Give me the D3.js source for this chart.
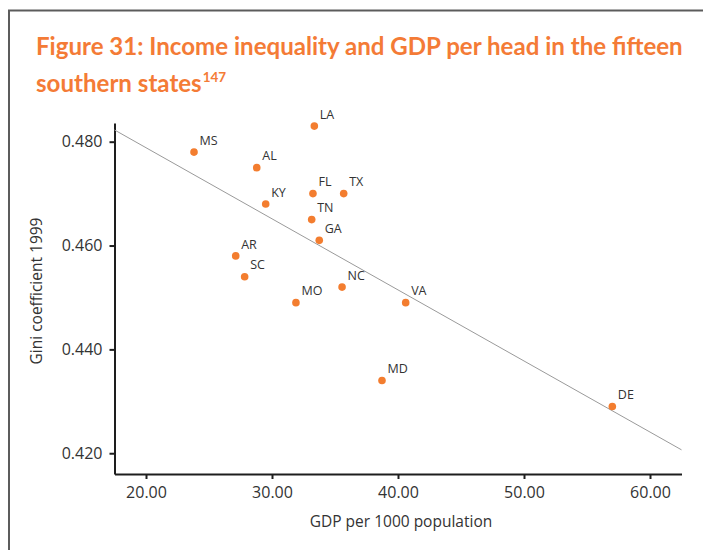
<!DOCTYPE html>
<html>
<head>
<meta charset="utf-8">
<script src="https://cdn.jsdelivr.net/npm/d3@7"></script>
<style>
  html, body { margin: 0; padding: 0; background: #fff; }
  svg { display: block; }
</style>
</head>
<body>
<svg id="chart" width="703" height="550"></svg>
<script>
// Fifteen southern states: GDP per 1000 population vs Gini coefficient (1999)
const states = ["MS", "AL", "LA", "KY", "FL", "TX", "TN", "GA", "AR", "SC", "NC", "MO", "VA", "MD", "DE"];
const gdpPer1000 = [23.81, 28.79, 33.36, 29.50, 33.25, 35.69, 33.15, 33.75, 27.12, 27.83, 35.56, 31.90, 40.61, 38.73, 57.01];
const gini1999 = [0.478, 0.475, 0.483, 0.468, 0.470, 0.470, 0.465, 0.461, 0.458, 0.454, 0.452, 0.449, 0.449, 0.434, 0.429];

const xTicks = [20, 30, 40, 50, 60];
const yTicks = [0.420, 0.440, 0.460, 0.480];

const titleLine1 = "Figure 31: Income inequality and GDP per head in the fifteen";
const titleLine2 = "southern states";
const titleNote = "147";
const xLabel = "GDP per 1000 population";
const yLabel = "Gini coefficient 1999";

const orange = "#f47b36";
const dotOrange = "#f37d2f";
const ink = "#333333";

const svg = d3.select("#chart");

// Page frame
svg.append("path")
  .attr("d", "M9,560 L9,10.5 L710,10.5")
  .attr("fill", "none")
  .attr("stroke", "#5c5c5c")
  .attr("stroke-width", 2);

// Title
const title = svg.append("g")
  .attr("font-family", "Lato, 'Open Sans', sans-serif")
  .attr("font-weight", "bold")
  .attr("fill", orange);

const t1 = title.append("text")
  .attr("x", 36).attr("y", 55)
  .attr("font-size", 23)
  .text(titleLine1);
// fit the first line to the frame width
const w1 = t1.node().getComputedTextLength();
const fs = 23 * 647 / w1;
t1.attr("font-size", fs);

const t2 = title.append("text")
  .attr("x", 36).attr("y", 92)
  .attr("font-size", fs);
t2.append("tspan").text(titleLine2);
t2.append("tspan")
  .attr("font-size", fs * 0.56)
  .attr("dy", -10)
  .attr("dx", 1)
  .text(titleNote);

// Scales
const x = d3.scaleLinear().domain([17.5, 62.5]).range([114.5, 681.5]);
const y = d3.scaleLinear().domain([0.416, 0.4836]).range([474, 123]);

// Axes
const xAxis = svg.append("g")
  .attr("transform", `translate(0,${y.range()[0]})`)
  .call(d3.axisBottom(x).tickValues(xTicks).tickFormat(d3.format(".2f"))
    .tickSize(5).tickSizeOuter(0).tickPadding(8));

const yAxis = svg.append("g")
  .attr("transform", `translate(${x.range()[0]},0)`)
  .call(d3.axisLeft(y).tickValues(yTicks).tickFormat(d3.format(".3f"))
    .tickSize(5).tickSizeOuter(0).tickPadding(7));

[xAxis, yAxis].forEach(g => {
  g.select(".domain").attr("stroke", "#1e1e1e").attr("stroke-width", 2);
  g.selectAll(".tick line").attr("stroke", "#1e1e1e").attr("stroke-width", 2);
  g.selectAll(".tick text")
    .attr("fill", ink)
    .attr("font-family", "'Open Sans', sans-serif")
    .attr("font-size", 16);
});

// Axis titles
svg.append("text")
  .attr("x", 401).attr("y", 527)
  .attr("text-anchor", "middle")
  .attr("font-family", "'Open Sans', sans-serif")
  .attr("font-size", 15.5)
  .attr("fill", ink)
  .text(xLabel);

svg.append("text")
  .attr("transform", "translate(42,291) rotate(-90)")
  .attr("text-anchor", "middle")
  .attr("font-family", "'Open Sans', sans-serif")
  .attr("font-size", 15.5)
  .attr("fill", ink)
  .text(yLabel);

// Least-squares trend line
const n = states.length;
const mx = d3.mean(gdpPer1000), my = d3.mean(gini1999);
let sxy = 0, sxx = 0;
for (let i = 0; i < n; i++) {
  sxy += (gdpPer1000[i] - mx) * (gini1999[i] - my);
  sxx += (gdpPer1000[i] - mx) ** 2;
}
const slope = sxy / sxx;
const intercept = my - slope * mx;
const [x0, x1] = x.domain();

svg.append("line")
  .attr("x1", x(x0)).attr("y1", y(intercept + slope * x0))
  .attr("x2", x(x1)).attr("y2", y(intercept + slope * x1))
  .attr("stroke", "#9a9a9a")
  .attr("stroke-width", 1);

// Points and labels
const pts = states.map((s, i) => ({ s, gdp: gdpPer1000[i], gini: gini1999[i] }));

svg.append("g").selectAll("circle")
  .data(pts).join("circle")
  .attr("cx", d => x(d.gdp))
  .attr("cy", d => y(d.gini))
  .attr("r", 3.8)
  .attr("fill", dotOrange);

svg.append("g").selectAll("text")
  .data(pts).join("text")
  .attr("x", d => x(d.gdp) + 5.5)
  .attr("y", d => y(d.gini) - 7.3)
  .attr("font-family", "'Open Sans', sans-serif")
  .attr("font-size", 12.5)
  .attr("fill", ink)
  .text(d => d.s);
</script>
</body>
</html>
